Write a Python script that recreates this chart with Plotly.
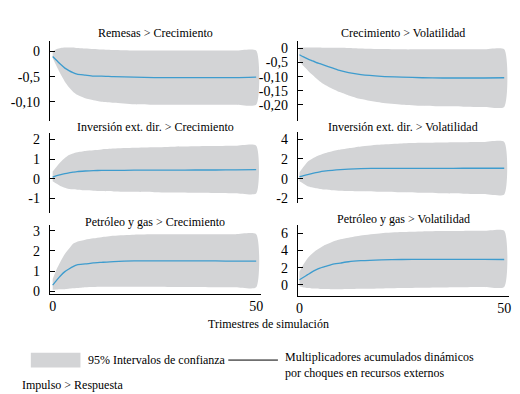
import plotly.graph_objects as go

# ---------------- data ----------------
t = [0, 1, 2, 3, 4, 5, 6, 8, 10, 12, 15, 20, 25, 30, 35, 40, 45, 50]

titles = [
    "Remesas > Crecimiento",
    "Crecimiento > Volatilidad",
    "Inversión ext. dir. > Crecimiento",
    "Inversión ext. dir. > Volatilidad",
    "Petróleo y gas > Crecimiento",
    "Petróleo y gas > Volatilidad",
]

# Remesas > Crecimiento
rem_cre_mid = [-0.010, -0.018, -0.026, -0.033, -0.038, -0.042, -0.045, -0.047, -0.049, -0.049,
               -0.050, -0.051, -0.052, -0.052, -0.052, -0.052, -0.052, -0.051]
rem_cre_up = [0.000, 0.005, 0.007, 0.008, 0.008, 0.008, 0.007, 0.006, 0.005, 0.004,
              0.003, 0.002, 0.002, 0.002, 0.002, 0.002, 0.002, 0.002]
rem_cre_lo = [-0.013, -0.030, -0.046, -0.060, -0.071, -0.080, -0.086, -0.093, -0.097, -0.100,
              -0.102, -0.105, -0.106, -0.106, -0.106, -0.106, -0.106, -0.106]

# Crecimiento > Volatilidad
cre_vol_mid = [-0.022, -0.030, -0.037, -0.043, -0.049, -0.054, -0.059, -0.069, -0.079, -0.086,
               -0.093, -0.099, -0.102, -0.104, -0.105, -0.105, -0.105, -0.104]
cre_vol_up = [0.003, 0.004, 0.004, 0.004, 0.004, 0.004, 0.003, 0.003, 0.003, 0.002,
              0.000, -0.002, -0.003, -0.003, -0.003, -0.003, -0.003, -0.003]
cre_vol_lo = [-0.045, -0.062, -0.077, -0.092, -0.105, -0.117, -0.127, -0.143, -0.156, -0.167,
              -0.180, -0.193, -0.200, -0.204, -0.206, -0.207, -0.208, -0.208]

# Inversión ext. dir. > Crecimiento
ied_cre_mid = [0.08, 0.15, 0.21, 0.26, 0.30, 0.33, 0.36, 0.39, 0.41, 0.42,
               0.42, 0.43, 0.43, 0.43, 0.44, 0.44, 0.45, 0.46]
ied_cre_up = [0.36, 0.62, 0.86, 1.05, 1.20, 1.28, 1.34, 1.41, 1.45, 1.49,
              1.53, 1.57, 1.60, 1.63, 1.65, 1.66, 1.67, 1.68]
ied_cre_lo = [-0.13, -0.26, -0.38, -0.46, -0.52, -0.54, -0.56, -0.59, -0.61, -0.63,
              -0.65, -0.67, -0.69, -0.71, -0.72, -0.73, -0.74, -0.75]

# Inversión ext. dir. > Volatilidad
ied_vol_mid = [0.20, 0.32, 0.42, 0.52, 0.62, 0.70, 0.76, 0.85, 0.92, 0.97,
               1.02, 1.05, 1.05, 1.05, 1.05, 1.06, 1.06, 1.06]
ied_vol_up = [0.63, 1.20, 1.73, 2.00, 2.23, 2.40, 2.56, 2.78, 2.96, 3.10,
              3.28, 3.47, 3.58, 3.64, 3.68, 3.70, 3.72, 3.73]
ied_vol_lo = [-0.27, -0.52, -0.77, -0.88, -0.97, -1.04, -1.10, -1.17, -1.22, -1.25,
              -1.28, -1.33, -1.38, -1.43, -1.48, -1.52, -1.56, -1.60]

# Petróleo y gas > Crecimiento
pet_cre_mid = [0.30, 0.55, 0.78, 0.97, 1.10, 1.22, 1.31, 1.35, 1.40, 1.43,
               1.47, 1.50, 1.50, 1.50, 1.50, 1.50, 1.49, 1.49]
pet_cre_up = [0.60, 1.10, 1.50, 1.85, 2.10, 2.35, 2.45, 2.55, 2.62, 2.68,
              2.75, 2.80, 2.82, 2.83, 2.83, 2.83, 2.83, 2.83]
pet_cre_lo = [0.07, 0.08, 0.09, 0.10, 0.12, 0.14, 0.16, 0.20, 0.21, 0.22,
              0.22, 0.22, 0.22, 0.21, 0.21, 0.20, 0.20, 0.19]

# Petróleo y gas > Volatilidad
pet_vol_mid = [0.60, 0.90, 1.20, 1.50, 1.75, 1.95, 2.10, 2.40, 2.55, 2.70,
               2.82, 2.92, 2.96, 2.98, 2.98, 2.97, 2.97, 2.96]
pet_vol_up = [1.55, 2.40, 3.10, 3.60, 4.00, 4.30, 4.60, 5.00, 5.30, 5.50,
              5.75, 6.02, 6.15, 6.22, 6.26, 6.28, 6.29, 6.30]
pet_vol_lo = [-0.15, -0.28, -0.36, -0.40, -0.42, -0.46, -0.48, -0.50, -0.49, -0.47,
              -0.44, -0.40, -0.35, -0.31, -0.28, -0.26, -0.24, -0.23]

mids = [rem_cre_mid, cre_vol_mid, ied_cre_mid, ied_vol_mid, pet_cre_mid, pet_vol_mid]
ups = [rem_cre_up, cre_vol_up, ied_cre_up, ied_vol_up, pet_cre_up, pet_vol_up]
los = [rem_cre_lo, cre_vol_lo, ied_cre_lo, ied_vol_lo, pet_cre_lo, pet_vol_lo]

ytick_vals = [
    [0, -0.05, -0.10],
    [0, -0.05, -0.10, -0.15, -0.20],
    [2, 1, 0, -1],
    [4, 2, 0, -2],
    [3, 2, 1, 0],
    [6, 4, 2, 0],
]
ytick_text = [
    ["0", "-0,5", "-0,10"],
    ["0", "-0,5", "-0,10", "-0,15", "-0,20"],
    ["2", "1", "0", "-1"],
    ["4", "2", "0", "-2"],
    ["3", "2", "1", "0"],
    ["6", "4", "2", "0"],
]
xtick_vals = [0, 50]
xtick_text = ["0", "50"]

# ---------------- layout geometry (pixels) ----------------
W, H = 520, 394
yranges = [
    [-0.139, 0.022],
    [-0.259, 0.0285],
    [-1.74, 2.32],
    [-2.47, 4.73],
    [-0.12, 3.30],
    [-1.23, 7.01],
]
ypix = [(32, 114), (32, 114), (126, 207), (125, 197), (219, 289), (219, 291)]
xpix = [(40, 253), (290, 503)]
xranges = [[-0.73, 51.2], [-0.41, 51.2]]
title_y = [24, 24, 120, 120, 216, 213]

FONT = "Liberation Serif"
BAND = "rgb(211,212,214)"
LINE = "rgb(62,156,206)"
TICKSIZE = 14

fig = go.Figure()
layout = dict(
    width=W, height=H, autosize=False,
    margin=dict(l=0, r=0, t=0, b=0),
    paper_bgcolor="white", plot_bgcolor="white",
    showlegend=False,
    font=dict(family=FONT, size=12, color="black"),
)

annotations = []
for i in range(6):
    col = i % 2
    n = i + 1
    xa = f"x{n}" if n > 1 else "x"
    ya = f"y{n}" if n > 1 else "y"
    fig.add_trace(go.Scatter(
        x=t + t[::-1], y=ups[i] + los[i][::-1],
        fill="toself", fillcolor=BAND, line=dict(width=0, color=BAND, shape="spline", smoothing=0.6),
        mode="lines", hoverinfo="skip", xaxis=xa, yaxis=ya))
    fig.add_trace(go.Scatter(
        x=t, y=mids[i], mode="lines",
        line=dict(color=LINE, width=1.3, shape="spline", smoothing=0.6),
        xaxis=xa, yaxis=ya))

    x0, x1 = xpix[col]
    yt, yb = ypix[i]
    bottom = i >= 4
    xkey = "xaxis" if n == 1 else f"xaxis{n}"
    ykey = "yaxis" if n == 1 else f"yaxis{n}"
    layout[xkey] = dict(
        domain=[x0 / W, x1 / W], anchor=ya, range=xranges[col],
        showgrid=False, zeroline=False,
        visible=bottom,
        showline=bottom, linecolor="black", linewidth=1,
        tickmode="array", tickvals=xtick_vals, ticktext=xtick_text,
        ticks="inside", ticklen=0, ticklabelstandoff=0,
        minor=dict(tickmode="array", tickvals=[xranges[col][1]], ticks="inside",
                   ticklen=5, tickcolor="black", showgrid=False),
        tickfont=dict(family=FONT, size=TICKSIZE, color="black"),
        fixedrange=True,
    )
    rng = yranges[i]
    layout[ykey] = dict(
        domain=[1 - yb / H, 1 - yt / H], anchor=xa, range=rng,
        showgrid=False, zeroline=False,
        showline=True, linecolor="black", linewidth=1,
        tickmode="array",
        tickvals=[rng[0]] + ytick_vals[i] + [rng[1]],
        ticktext=[""] + ytick_text[i] + [""],
        ticks="inside", ticklen=5, tickcolor="black", tickwidth=1,
        ticklabelstandoff=6,
        tickfont=dict(family=FONT, size=TICKSIZE, color="black"),
        fixedrange=True,
    )
    annotations.append(dict(
        text=titles[i], xref="paper", yref="paper",
        x=(x0 + x1) / 2 / W, y=1 - title_y[i] / H,
        xanchor="center", yanchor="middle", showarrow=False,
        font=dict(family=FONT, size=12, color="black")))

annotations += [
    dict(text="Trimestres de simulación", xref="paper", yref="paper",
         x=261 / W, y=1 - 320 / H, xanchor="center", yanchor="middle", showarrow=False),
    dict(text="95% Intervalos de confianza", xref="paper", yref="paper",
         x=77 / W, y=1 - 356 / H, xanchor="left", yanchor="middle", showarrow=False),
    dict(text="Multiplicadores acumulados dinámicos<br>por choques en recursos externos",
         xref="paper", yref="paper", x=275 / W, y=1 - 361 / H, xanchor="left",
         yanchor="middle", align="left", showarrow=False),
    dict(text="Impulso > Respuesta", xref="paper", yref="paper",
         x=10 / W, y=1 - 382 / H, xanchor="left", yanchor="middle", showarrow=False),
]
for a in annotations:
    a.setdefault("font", dict(family=FONT, size=12, color="black"))

layout["annotations"] = annotations
layout["shapes"] = [
    dict(type="rect", xref="paper", yref="paper", x0=21 / W, x1=71 / W,
         y0=1 - 364 / H, y1=1 - 349 / H, fillcolor=BAND, line=dict(width=0)),
    dict(type="line", xref="paper", yref="paper", x0=220 / W, x1=270 / W,
         y0=1 - 356.5 / H, y1=1 - 356.5 / H, line=dict(color="black", width=1)),
]
fig.update_layout(**layout)
fig.write_html("out.html")
